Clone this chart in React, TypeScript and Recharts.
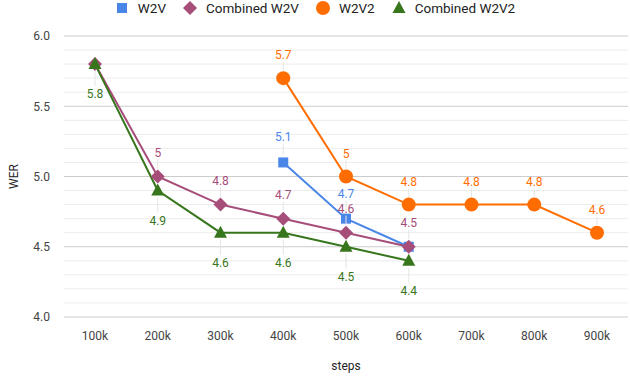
import React from "react";
import { CartesianGrid, Label, LabelList, Line, LineChart, ReferenceLine, XAxis, YAxis } from "recharts";

const steps = ["100k", "200k", "300k", "400k", "500k", "600k", "700k", "800k", "900k"];
const w2v = [null, null, null, 5.1, 4.7, 4.5, null, null, null];
const combinedW2v = [5.8, 5.0, 4.8, 4.7, 4.6, 4.5, null, null, null];
const w2v2 = [null, null, null, 5.7, 5.0, 4.8, 4.8, 4.8, 4.6];
const combinedW2v2 = [5.8, 4.9, 4.6, 4.6, 4.5, 4.4, null, null, null];

const majorTicks = [4.0, 4.5, 5.0, 5.5, 6.0];
const minorTicks = [4.1, 4.2, 4.3, 4.4, 4.6, 4.7, 4.8, 4.9, 5.1, 5.2, 5.3, 5.4, 5.6, 5.7, 5.8, 5.9];

const BLUE = "#4a86e8";
const PURPLE = "#a64d79";
const ORANGE = "#ff6d01";
const GREEN = "#38761d";
const FONT = "Roboto, 'Noto Sans', sans-serif";

const data = steps.map((step, i) => ({
  step,
  w2v: w2v[i],
  combinedW2v: combinedW2v[i],
  w2v2: w2v2[i],
  combinedW2v2: combinedW2v2[i],
}));

type Shape = "square" | "diamond" | "circle" | "triangle";

function marker(shape: Shape, x: number, y: number, color: string, key?: string) {
  if (shape === "square") return <rect key={key} x={x - 5} y={y - 5} width={10} height={10} fill={color} />;
  if (shape === "diamond")
    return <polygon key={key} points={`${x},${y - 7} ${x + 7},${y} ${x},${y + 7} ${x - 7},${y}`} fill={color} />;
  if (shape === "circle") return <circle key={key} cx={x} cy={y} r={7} fill={color} />;
  return <polygon key={key} points={`${x},${y - 7} ${x + 6.5},${y + 5} ${x - 6.5},${y + 5}`} fill={color} />;
}

function dotFor(shape: Shape, color: string) {
  return (props: any) => {
    const { cx, cy, value, index } = props;
    const k = `${shape}-${index}`;
    if (value == null || cx == null || cy == null) return <g key={k} />;
    return marker(shape, cx, cy, color, k);
  };
}

// data label with the faint leader line Sheets draws
function labelFor(color: string, dy: number, skip: number[] = []) {
  return (props: any) => {
    const { x, y, value, index } = props;
    if (value == null || skip.includes(index)) return null;
    const up = dy < 0;
    return (
      <g>
        <line x1={x} x2={x} y1={up ? y - 8 : y + 7} y2={up ? y + dy + 7 : y + dy - 8} stroke="#e4e4e4" />
        <text x={x} y={y + dy} fill={color} fontSize={12} fontFamily={FONT} textAnchor="middle" dominantBaseline="central">
          {String(value)}
        </text>
      </g>
    );
  };
}

const legendItems: { name: string; shape: Shape; color: string }[] = [
  { name: "W2V", shape: "square", color: BLUE },
  { name: "Combined W2V", shape: "diamond", color: PURPLE },
  { name: "W2V2", shape: "circle", color: ORANGE },
  { name: "Combined W2V2", shape: "triangle", color: GREEN },
];

export default function App() {
  return (
    <div style={{ position: "fixed", left: 0, top: 0, width: 630, height: 376, background: "#fff", fontFamily: FONT }}>
      <div
        style={{
          position: "absolute",
          top: 0,
          left: 0,
          width: 630,
          display: "flex",
          justifyContent: "center",
          gap: 17,
          fontSize: 13.5,
          color: "#222",
          lineHeight: "16px",
        }}
      >
        {legendItems.map((item) => (
          <div key={item.name} style={{ display: "flex", alignItems: "center", gap: 9 }}>
            <svg width={14} height={16}>
              {marker(item.shape, 7, 8, item.color)}
            </svg>
            <span>{item.name}</span>
          </div>
        ))}
      </div>
      <LineChart width={630} height={376} data={data} margin={{ top: 36, right: 2, bottom: 0, left: 0 }} style={{ fontFamily: FONT }}>
        {minorTicks.map((v) => (
          <ReferenceLine key={v} y={v} stroke="#ececec" strokeWidth={1} />
        ))}
        <CartesianGrid vertical={false} stroke="#cccccc" />
        <XAxis
          dataKey="step"
          axisLine={false}
          tickLine={false}
          padding={{ left: 31, right: 31 }}
          height={59}
          tickMargin={8}
          tick={{ fontSize: 12, fill: "#444", fontFamily: FONT }}
          interval={0}
        >
          <Label
            content={(p: any) => (
              <text x={p.viewBox.x + p.viewBox.width / 2} y={p.viewBox.y + 49} textAnchor="middle" dominantBaseline="central" fontSize={12} fill="#222" fontFamily={FONT}>
                steps
              </text>
            )}
          />
        </XAxis>
        <YAxis
          domain={[4, 6]}
          ticks={majorTicks}
          width={64}
          axisLine={false}
          tickLine={false}
          tickMargin={8}
          tickFormatter={(v: number) => v.toFixed(1)}
          tick={{ fontSize: 12, fill: "#444", fontFamily: FONT }}
        >
          <Label
            content={(p: any) => {
              const cx = 14;
              const cy = p.viewBox.y + p.viewBox.height / 2;
              return (
                <text x={cx} y={cy} transform={`rotate(-90 ${cx} ${cy})`} textAnchor="middle" dominantBaseline="central" fontSize={12} fill="#222" fontFamily={FONT}>
                  WER
                </text>
              );
            }}
          />
        </YAxis>
        <Line dataKey="w2v" stroke={BLUE} strokeWidth={2} dot={dotFor("square", BLUE)} activeDot={false} isAnimationActive={false}>
          <LabelList dataKey="w2v" content={labelFor(BLUE, -25, [5])} />
        </Line>
        <Line dataKey="combinedW2v" stroke={PURPLE} strokeWidth={2} dot={dotFor("diamond", PURPLE)} activeDot={false} isAnimationActive={false}>
          <LabelList dataKey="combinedW2v" content={labelFor(PURPLE, -24, [0])} />
        </Line>
        <Line dataKey="w2v2" stroke={ORANGE} strokeWidth={2} dot={dotFor("circle", ORANGE)} activeDot={false} isAnimationActive={false}>
          <LabelList dataKey="w2v2" content={labelFor(ORANGE, -23)} />
        </Line>
        <Line dataKey="combinedW2v2" stroke={GREEN} strokeWidth={2} dot={dotFor("triangle", GREEN)} activeDot={false} isAnimationActive={false}>
          <LabelList dataKey="combinedW2v2" content={labelFor(GREEN, 30)} />
        </Line>
      </LineChart>
    </div>
  );
}
